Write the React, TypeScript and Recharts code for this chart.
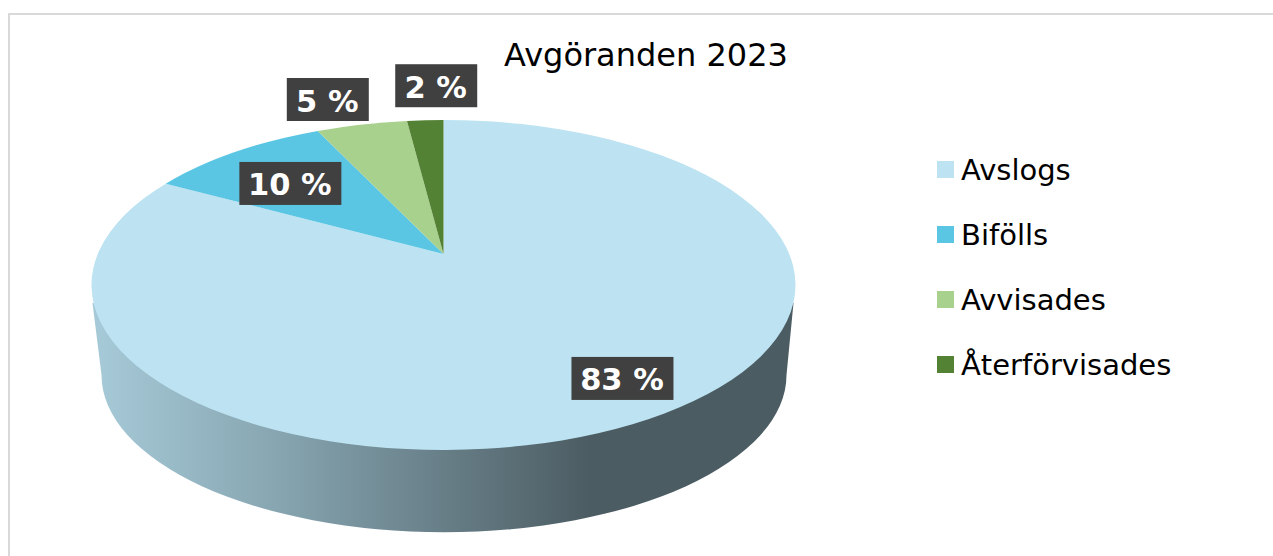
import { Legend, Pie, PieChart } from 'recharts';

const categories = ['Avslogs', 'Bifölls', 'Avvisades', 'Återförvisades'];
const shares = [83, 10, 5, 2];
const colors = ['#bde3f2', '#5ac6e4', '#a9d18e', '#548235'];

// label box centre, relative to the slice's rim midpoint
const labelOffsets = [
  [-31, -39],
  [55, 31.5],
  [-34, -25],
  [11, -34.5],
];

const data = categories.map((name, i) => ({ name, value: shares[i], fill: colors[i] }));

const FONT = '"DejaVu Sans", sans-serif';

// tilted disc: the circle from the library is projected onto an ellipse
const TILT = 165 / 352;
const PERSPECTIVE = 0.188;
const DEPTH = 90;

function project(cx: number, cy: number, r: number, angle: number) {
  const t = ((90 - angle) * Math.PI) / 180;
  const sx = Math.sin(t);
  const sy = Math.cos(t);
  const w = 1 + PERSPECTIVE * sy;
  return {
    x: cx + (r * Math.sqrt(1 - PERSPECTIVE * PERSPECTIVE) * sx) / w,
    y: cy - (r * TILT * (sy + PERSPECTIVE)) / w,
  };
}

function Slice(props: any) {
  const { cx, cy, outerRadius: r, startAngle, endAngle, fill } = props;
  const ry = r * TILT;
  const apexY = cy - ry * PERSPECTIVE;
  const a = project(cx, cy, r, startAngle);
  const b = project(cx, cy, r, endAngle);
  const large = Math.abs(startAngle - endAngle) > 180 ? 1 : 0;
  const facesViewer = startAngle >= -90 && endAngle <= -90;
  return (
    <g>
      {facesViewer && (
        <path
          d={`M${cx - r + 1},${cy + 18} L${cx - r + 10},${cy + DEPTH}
              A${r - 10},${ry - 8} 0 0 0 ${cx + r - 9},${cy + DEPTH}
              L${cx + r - 2},${cy + 18} Z`}
          fill="url(#wallShade)"
        />
      )}
      <path d={`M${cx},${apexY} L${a.x},${a.y} A${r},${ry} 0 ${large} 1 ${b.x},${b.y} Z`} fill={fill} />
    </g>
  );
}

function SliceLabel(props: any) {
  const { cx, cy, outerRadius, midAngle, value, index } = props;
  const rim = project(cx, cy, outerRadius, midAngle);
  const [dx, dy] = labelOffsets[index];
  const text = `${value} %`;
  const width = value >= 10 ? 102 : 82;
  const x = rim.x + dx;
  const y = rim.y + dy;
  return (
    <g>
      <rect x={x - width / 2} y={y - 21.5} width={width} height={43} fill="#404040" />
      <text x={x - 0.5} y={y + 12} textAnchor="middle" fontFamily={FONT} fontSize={30.5} fontWeight={700} fill="#ffffff">
        {text}
      </text>
    </g>
  );
}

function LegendList({ payload }: any) {
  return (
    <div style={{ fontFamily: FONT, fontSize: 29, color: '#000' }}>
      {(payload ?? []).map((entry: any) => (
        <div key={entry.value} style={{ display: 'flex', alignItems: 'center', height: 65 }}>
          <span style={{ width: 17, height: 17, background: entry.color, marginRight: 7 }} />
          <span>{entry.value}</span>
        </div>
      ))}
    </div>
  );
}

export default function App() {
  return (
    <div style={{ position: 'absolute', left: 0, top: 0, width: 1273, height: 556, overflow: 'hidden', background: '#fff' }}>
      <div
        style={{
          position: 'absolute',
          left: 8,
          top: 13,
          right: 0,
          bottom: 0,
          borderLeft: '2px solid #d9d9d9',
          borderTop: '2px solid #d9d9d9',
        }}
      />
      <div style={{ position: 'absolute', left: 0, top: 0 }}>
        <PieChart width={1273} height={556} margin={{ top: 0, right: 0, bottom: 0, left: 0 }}>
          <defs>
            <linearGradient id="wallShade" gradientUnits="userSpaceOnUse" x1={100} y1={0} x2={790} y2={0}>
              <stop offset="0%" stopColor="#a6c9d7" />
              <stop offset="26%" stopColor="#86a5b0" />
              <stop offset="71%" stopColor="#4c5c63" />
              <stop offset="100%" stopColor="#4c5c63" />
            </linearGradient>
          </defs>
          <text x={646} y={66} textAnchor="middle" fontFamily={FONT} fontSize={32} fill="#000">
            Avgöranden 2023
          </text>
          <Pie
            data={data}
            dataKey="value"
            nameKey="name"
            cx={443.5}
            cy={285}
            outerRadius={352}
            startAngle={90}
            endAngle={-270}
            stroke="none"
            shape={Slice}
            label={SliceLabel}
            labelLine={false}
            isAnimationActive={false}
          />
          <Legend
            content={<LegendList />}
            itemSorter={null}
            layout="vertical"
            wrapperStyle={{ position: 'absolute', left: 937, top: 137, width: 300, bottom: 'auto', right: 'auto' }}
          />
        </PieChart>
      </div>
    </div>
  );
}
